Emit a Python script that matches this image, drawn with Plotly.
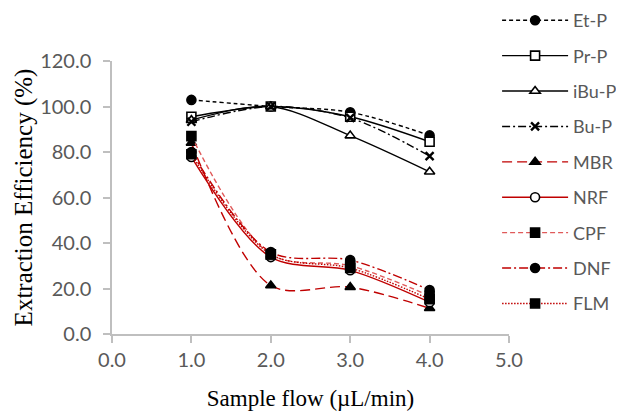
import plotly.graph_objects as go

flow = [1.0, 2.0, 3.0, 4.0]

et_p = [102.9, 100.0, 97.5, 87.3]
pr_p = [95.5, 100.0, 95.5, 84.5]
ibu_p = [94.0, 100.0, 87.2, 71.3]
bu_p = [93.3, 100.0, 95.0, 78.2]
mbr = [84.0, 21.3, 20.6, 11.3]
nrf = [77.8, 33.8, 28.0, 14.0]
cpf = [87.0, 35.0, 30.0, 16.8]
dnf = [80.0, 36.0, 32.5, 19.3]
flm = [79.0, 35.0, 29.0, 15.3]

names = ["Et-P", "Pr-P", "iBu-P", "Bu-P", "MBR", "NRF", "CPF", "DNF", "FLM"]
values = [et_p, pr_p, ibu_p, bu_p, mbr, nrf, cpf, dnf, flm]

# line colour, dash, marker symbol, marker fill
styles = [
    ("black", "4px,3px", "circle", "black"),
    ("black", "solid", "square", "white"),
    ("black", "solid", "triangle-up", "white"),
    ("black", "8px,3px,2px,3px", "x-thin-open", "black"),
    ("#c00000", "10px,5px", "triangle-up", "black"),
    ("#c00000", "solid", "circle", "white"),
    ("#e05a5a", "5px,3px", "square", "black"),
    ("#c00000", "9px,3px,2px,3px", "circle", "black"),
    ("#c00000", "1.5px,1.5px", "square", "black"),
]

fig = go.Figure()
for i, (name, vals) in enumerate(zip(names, values)):
    col, dash, sym, fill = styles[i]
    marker = dict(symbol=sym, size=9, color=fill, line=dict(color="black", width=1.6))
    if sym == "x-thin-open":
        marker = dict(symbol=sym, size=8, color="black", line=dict(color="black", width=2.4))
    fig.add_trace(go.Scatter(
        x=flow, y=vals, name=name, mode="lines+markers",
        line=dict(color=col, dash=dash, width=1.4, shape="spline", smoothing=0.9),
        marker=marker, legendgroup=name,
    ))

tick_font = dict(family="Lato", size=20, color="#595959")

# page body has an 8px margin, so the figure is shrunk by that much
fig.update_layout(
    width=616, height=407,
    margin=dict(l=104, r=115, t=53, b=81, autoexpand=False),
    plot_bgcolor="white", paper_bgcolor="white",
    showlegend=True,
    legend=dict(x=0.97, xanchor="left", y=1.216, yanchor="top",
                font=dict(family="Lato", size=18, color="#595959"),
                tracegroupgap=9, itemwidth=66, bgcolor="rgba(0,0,0,0)", maxheight=600),
)
fig.update_xaxes(
    range=[0, 5], tickvals=[0, 1, 2, 3, 4, 5], ticktext=["0.0", "1.0", "2.0", "3.0", "4.0", "5.0"],
    showline=True, linecolor="#bfbfbf", linewidth=1.5, ticks="outside", ticklen=7,
    tickcolor="#bfbfbf", tickwidth=1.5, showgrid=False, zeroline=False,
    tickfont=tick_font,
    title=dict(text="Sample flow (µL/min)", font=dict(family="Liberation Serif", size=23, color="black"), standoff=20),
)
fig.update_yaxes(
    range=[0, 120], tickvals=[0, 20, 40, 60, 80, 100, 120],
    ticktext=["0.0", "20.0", "40.0", "60.0", "80.0", "100.0", "120.0"],
    showline=True, linecolor="#bfbfbf", linewidth=1.5, ticks="outside", ticklen=7,
    tickcolor="#bfbfbf", tickwidth=1.5, showgrid=False, zeroline=False,
    tickfont=tick_font, ticklabelstandoff=8,
    title=dict(text="Extraction Efficiency (%)", font=dict(family="Liberation Serif", size=25, color="black"), standoff=0),
)

fig.write_html("out.html")
